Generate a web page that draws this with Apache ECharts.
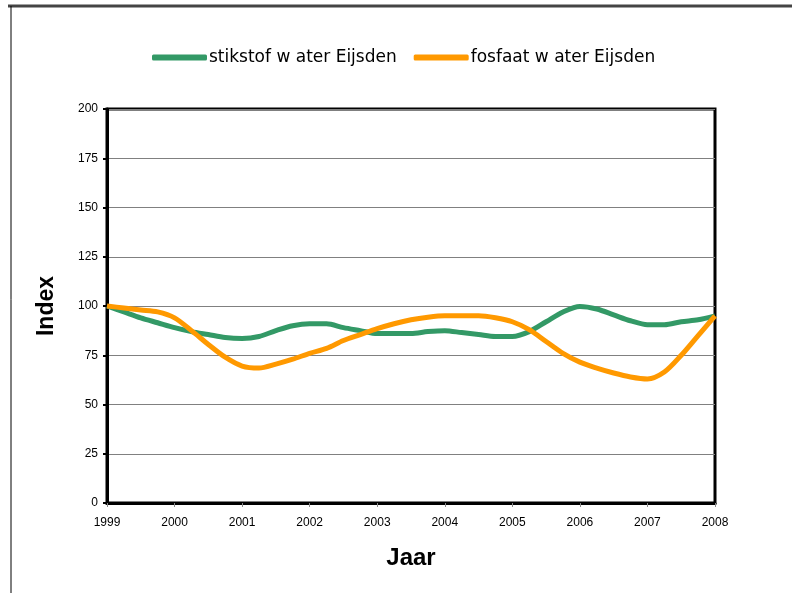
<!DOCTYPE html>
<html>
<head>
<meta charset="utf-8">
<script src="https://cdn.jsdelivr.net/npm/echarts@6/dist/echarts.min.js"></script>
<style>html,body{margin:0;padding:0;background:#fff}#c{width:792px;height:593px}</style>
</head>
<body>
<div id="c"></div>
<script>
const years = [1999,1999.25,1999.5,1999.75,2000,2000.25,2000.5,2000.75,2001,2001.25,2001.5,2001.75,2002,2002.25,2002.5,2002.75,2003,2003.25,2003.5,2003.75,2004,2004.25,2004.5,2004.75,2005,2005.25,2005.5,2005.75,2006,2006.25,2006.5,2006.75,2007,2007.25,2007.5,2007.75,2008];
const stikstof = [100,97,94,91.5,89,87,85.5,84,83.5,84.5,87.5,90,91,91,89,87.5,86,86,86,87,87.5,86.5,85.5,84.5,84.5,87,92,97,99.8,98.5,95.5,92.5,90.5,90.5,92,93,95];
const fosfaat = [100,99,98,97,94,87.5,80.5,74,69.5,68.5,70.5,73,76,78.5,82.5,85.5,88.5,91,93,94.3,95,95,95,94,92,88,82,76,71.5,68.5,66,64,63,66.5,75,85,95];
const seriesNames = ['stikstof w ater Eijsden','fosfaat w ater Eijsden'];
const yTicks = {min:0, max:200, interval:25};
const xTicks = {min:1999, max:2008, interval:1};

const chart = echarts.init(document.getElementById('c'), null, {renderer:'canvas'});
const font = '"Liberation Sans", Arial, sans-serif';
chart.setOption({
  animation:false,
  backgroundColor:'#fff',
  graphic:[
    {type:'line', shape:{x1:8,y1:6,x2:792,y2:6}, style:{stroke:'#444',lineWidth:3}},
    {type:'line', shape:{x1:11,y1:6,x2:11,y2:593}, style:{stroke:'#000',lineWidth:1}}
  ],
  legend:{
    top:44, left:147,
    itemWidth:55, itemHeight:6, itemGap:17,
    icon:'roundRect',
    textStyle:{fontFamily:'"DejaVu Sans", sans-serif', fontSize:17, color:'#000', padding:[0,0,0,-3]},
    data:seriesNames
  },
  grid:{left:107, right:77, top:109, bottom:90, show:true, borderColor:'#000', borderWidth:3, containLabel:false},
  xAxis:{
    type:'value', min:xTicks.min, max:xTicks.max, interval:xTicks.interval,
    name:'Jaar', nameLocation:'middle', nameGap:43,
    nameTextStyle:{fontFamily:font, fontSize:24, fontWeight:'bold', color:'#000'},
    axisLine:{show:true, lineStyle:{color:'#000', width:3}},
    axisTick:{show:true, length:4, lineStyle:{color:'#888', width:1}},
    axisLabel:{fontFamily:font, fontSize:12, color:'#000', margin:14, formatter:v=>String(v)},
    splitLine:{show:false}
  },
  yAxis:{
    type:'value', min:yTicks.min, max:yTicks.max, interval:yTicks.interval,
    name:'Index', nameLocation:'middle', nameGap:49,
    nameTextStyle:{fontFamily:font, fontSize:23, fontWeight:'bold', color:'#000'},
    axisLine:{show:true, lineStyle:{color:'#000', width:3}},
    axisTick:{show:true, length:4, lineStyle:{color:'#000', width:2}},
    axisLabel:{fontFamily:font, fontSize:12, color:'#000', margin:9},
    splitLine:{show:true, lineStyle:{color:'#808080', width:1}}
  },
  series:[
    {name:seriesNames[0], type:'line', data:years.map((x,i)=>[x,stikstof[i]]), smooth:0.3, showSymbol:false, symbol:'none',
     lineStyle:{color:'#339966', width:5}, itemStyle:{color:'#339966'}, z:3},
    {name:seriesNames[1], type:'line', data:years.map((x,i)=>[x,fosfaat[i]]), smooth:0.3, showSymbol:false, symbol:'none',
     lineStyle:{color:'#FF9900', width:5}, itemStyle:{color:'#FF9900'}, z:4}
  ]
});
</script>
</body>
</html>
